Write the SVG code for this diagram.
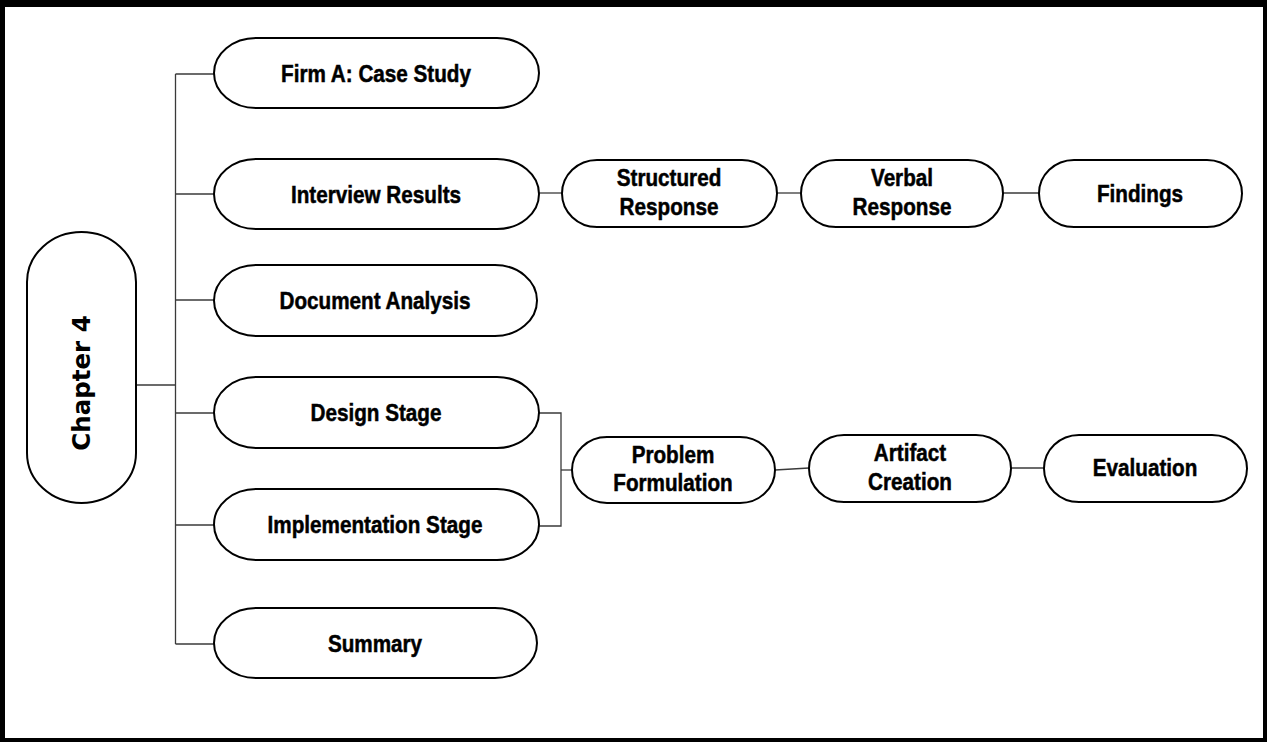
<svg xmlns="http://www.w3.org/2000/svg" width="1267" height="742" viewBox="0 0 1267 742">
  <style>
    .node { fill: #ffffff; stroke: #000000; stroke-width: 2; }
    .lbl { font-family: "Liberation Sans", Arial, sans-serif; font-weight: bold; font-size: 23.5px; fill: #000000; stroke: #000000; stroke-width: 0.5; text-anchor: middle; }
    .wire { fill: none; stroke: #3a3a3a; stroke-width: 1.3; }
    .chap { font-family: "DejaVu Sans", "Liberation Sans", sans-serif; font-weight: bold; font-size: 24.5px; fill: #000000; text-anchor: middle; }
  </style>

  <!-- page background and frame -->
  <rect x="0" y="0" width="1267" height="742" fill="#ffffff"/>
  <rect x="0" y="0" width="1267" height="7" fill="#000000"/>
  <rect x="0" y="0" width="5" height="742" fill="#000000"/>
  <rect x="1263" y="0" width="4" height="742" fill="#000000"/>
  <rect x="0" y="738" width="1267" height="4" fill="#000000"/>

  <!-- connectors -->
  <g id="connectors">
    <!-- trunk from Chapter 4 -->
    <line class="wire" x1="135" y1="385" x2="175.5" y2="385"/>
    <line class="wire" x1="175.5" y1="74" x2="175.5" y2="644"/>
    <line class="wire" x1="175.5" y1="74" x2="214" y2="74"/>
    <line class="wire" x1="175.5" y1="194" x2="214" y2="194"/>
    <line class="wire" x1="175.5" y1="300" x2="214" y2="300"/>
    <line class="wire" x1="175.5" y1="413" x2="214" y2="413"/>
    <line class="wire" x1="175.5" y1="525" x2="214" y2="525"/>
    <line class="wire" x1="175.5" y1="644" x2="214" y2="644"/>
    <!-- interview chain -->
    <line class="wire" x1="539" y1="193" x2="562" y2="193"/>
    <line class="wire" x1="777" y1="193" x2="801" y2="193"/>
    <line class="wire" x1="1003" y1="193" x2="1039" y2="193"/>
    <!-- design / implementation bracket -->
    <polyline class="wire" points="538,413 561,413 561,526 538,526"/>
    <line class="wire" x1="561" y1="470" x2="572" y2="470"/>
    <!-- problem chain -->
    <line class="wire" x1="775" y1="470" x2="809" y2="468"/>
    <line class="wire" x1="1011" y1="468" x2="1044" y2="468"/>
  </g>

  <!-- Chapter 4 -->
  <g id="chapter4">
    <path class="node" d="M27,282 A54.5,50 0 0 1 136,282 V453 A54.5,50 0 0 1 27,453 Z"/>
    <text class="chap" transform="translate(90,383) rotate(-90)">Chapter 4</text>
  </g>

  <!-- labels use a narrowed bold sans: scale(0.88,1) about the node centre -->
  <g id="firm-a">
    <path class="node" d="M256,38 H497 A42,35 0 0 1 497,108 H256 A42,35 0 0 1 256,38 Z"/>
    <text class="lbl" transform="translate(376,82) scale(0.88,1)">Firm A: Case Study</text>
  </g>

  <g id="interview">
    <path class="node" d="M256,159 H497 A42,35 0 0 1 497,229 H256 A42,35 0 0 1 256,159 Z"/>
    <text class="lbl" transform="translate(376,203) scale(0.88,1)">Interview Results</text>
  </g>

  <g id="document">
    <path class="node" d="M256,265 H495 A42,35.5 0 0 1 495,336 H256 A42,35.5 0 0 1 256,265 Z"/>
    <text class="lbl" transform="translate(375,309) scale(0.88,1)">Document Analysis</text>
  </g>

  <g id="design">
    <path class="node" d="M256,377 H497 A42,35.5 0 0 1 497,448 H256 A42,35.5 0 0 1 256,377 Z"/>
    <text class="lbl" transform="translate(376,421) scale(0.88,1)">Design Stage</text>
  </g>

  <g id="implementation">
    <path class="node" d="M256,489 H497 A42,35.5 0 0 1 497,560 H256 A42,35.5 0 0 1 256,489 Z"/>
    <text class="lbl" transform="translate(375,533) scale(0.88,1)">Implementation Stage</text>
  </g>

  <g id="summary">
    <path class="node" d="M256,608 H495 A42,35 0 0 1 495,678 H256 A42,35 0 0 1 256,608 Z"/>
    <text class="lbl" transform="translate(375,652) scale(0.88,1)">Summary</text>
  </g>

  <g id="structured">
    <path class="node" d="M597,160 H742 A35,33.5 0 0 1 742,227 H597 A35,33.5 0 0 1 597,160 Z"/>
    <text class="lbl" transform="translate(669,186) scale(0.88,1)">Structured</text>
    <text class="lbl" transform="translate(669,215) scale(0.88,1)">Response</text>
  </g>

  <g id="verbal">
    <path class="node" d="M836,160 H968 A35,33.5 0 0 1 968,227 H836 A35,33.5 0 0 1 836,160 Z"/>
    <text class="lbl" transform="translate(902,186) scale(0.88,1)">Verbal</text>
    <text class="lbl" transform="translate(902,215) scale(0.88,1)">Response</text>
  </g>

  <g id="findings">
    <path class="node" d="M1074,160 H1207 A35,33.5 0 0 1 1207,227 H1074 A35,33.5 0 0 1 1074,160 Z"/>
    <text class="lbl" transform="translate(1140,202) scale(0.88,1)">Findings</text>
  </g>

  <g id="problem">
    <path class="node" d="M607,437 H740 A35,33 0 0 1 740,503 H607 A35,33 0 0 1 607,437 Z"/>
    <text class="lbl" transform="translate(673,463) scale(0.88,1)">Problem</text>
    <text class="lbl" transform="translate(673,491) scale(0.88,1)">Formulation</text>
  </g>

  <g id="artifact">
    <path class="node" d="M844,435 H976 A35,33.5 0 0 1 976,502 H844 A35,33.5 0 0 1 844,435 Z"/>
    <text class="lbl" transform="translate(910,461) scale(0.88,1)">Artifact</text>
    <text class="lbl" transform="translate(910,490) scale(0.88,1)">Creation</text>
  </g>

  <g id="evaluation">
    <path class="node" d="M1079,435 H1212 A35,33.5 0 0 1 1212,502 H1079 A35,33.5 0 0 1 1079,435 Z"/>
    <text class="lbl" transform="translate(1145,476) scale(0.88,1)">Evaluation</text>
  </g>
</svg>
